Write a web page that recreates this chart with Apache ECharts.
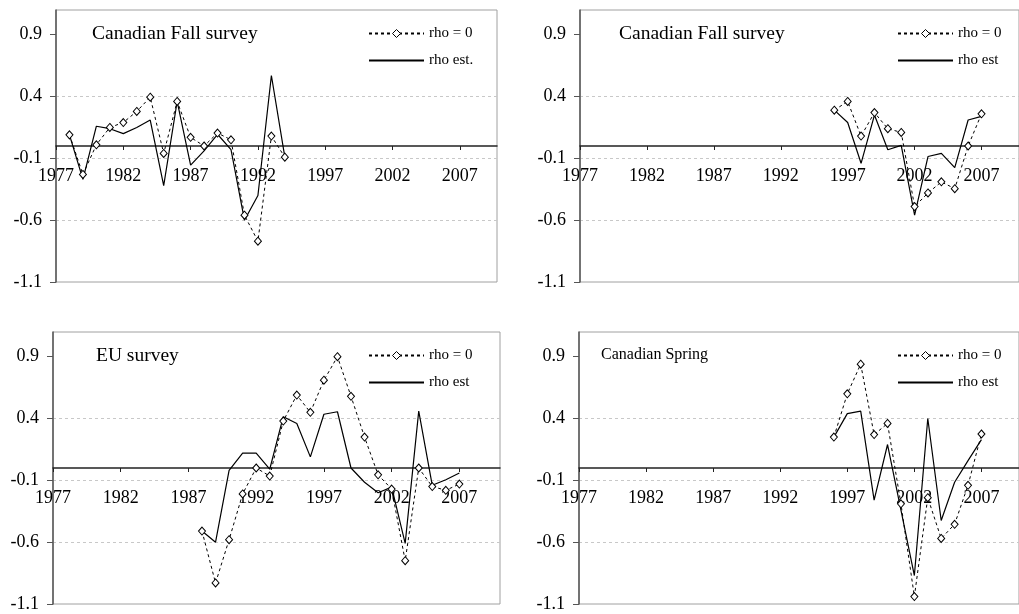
<!DOCTYPE html>
<html>
<head>
<meta charset="utf-8">
<script src="https://cdn.jsdelivr.net/npm/echarts@6/dist/echarts.min.js"></script>
<style>html,body{margin:0;padding:0;background:#fff;}#c{width:1019px;height:614px;}</style>
</head>
<body>
<div id="c"></div>
<script>
// ---- data ----
const xTickYears = [1977, 1982, 1987, 1992, 1997, 2002, 2007];
const yTicks = [-1.1, -0.6, -0.1, 0.4, 0.9];

const titles = ['Canadian Fall survey', 'Canadian Fall survey', 'EU survey', 'Canadian Spring'];
const legendNames = [['rho = 0', 'rho est.'], ['rho = 0', 'rho est'], ['rho = 0', 'rho est'], ['rho = 0', 'rho est']];

const yearsFall1 = [1978,1979,1980,1981,1982,1983,1984,1985,1986,1987,1988,1989,1990,1991,1992,1993,1994];
const fall1Rho0  = [0.09,-0.23,0.01,0.15,0.19,0.28,0.395,-0.06,0.36,0.07,0.0,0.105,0.05,-0.56,-0.77,0.08,-0.09];
const fall1Est   = [0.09,-0.27,0.16,0.14,0.10,0.15,0.21,-0.32,0.36,-0.155,-0.04,0.095,-0.03,-0.60,-0.40,0.57,-0.09];

const yearsFall2 = [1996,1997,1998,1999,2000,2001,2002,2003,2004,2005,2006,2007];
const fall2Rho0  = [0.29,0.36,0.08,0.27,0.14,0.11,-0.49,-0.38,-0.29,-0.345,0.0,0.26];
const fall2Est   = [0.29,0.19,-0.14,0.25,-0.03,0.005,-0.56,-0.085,-0.06,-0.175,0.21,0.24];

const yearsEU = [1988,1989,1990,1991,1992,1993,1994,1995,1996,1997,1998,1999,2000,2001,2002,2003,2004,2005,2006,2007];
const euRho0  = [-0.51,-0.93,-0.58,-0.21,0.0,-0.065,0.38,0.59,0.45,0.71,0.90,0.58,0.25,-0.055,-0.17,-0.75,0.0,-0.15,-0.18,-0.13];
const euEst   = [-0.51,-0.60,-0.02,0.12,0.12,-0.01,0.415,0.36,0.09,0.435,0.455,0.0,-0.115,-0.2,-0.155,-0.61,0.46,-0.14,-0.095,-0.04];

const yearsSpring = [1996,1997,1998,1999,2000,2001,2002,2003,2004,2005,2006,2007];
const springRho0  = [0.25,0.60,0.84,0.27,0.36,-0.29,-1.04,-0.24,-0.57,-0.455,-0.14,0.275];
const springEst   = [0.25,0.44,0.46,-0.26,0.19,-0.34,-0.87,0.40,-0.425,-0.115,0.06,0.23];

// ---- layout ----
const FONT = "'Liberation Serif','Times New Roman',serif";
const layout = [
  {grid:{left:56, top:10, width:441, height:272}, xmax:2009.76, titleLeft:89, titleTop:24, titleSize:19.5, legLeft:361, legTop:23},
  {grid:{left:580, top:10, width:446, height:272}, xmax:2009.8, titleLeft:616, titleTop:24, titleSize:19.5, legLeft:890, legTop:23},
  {grid:{left:53, top:332, width:447, height:272}, xmax:2010.0, titleLeft:93, titleTop:346, titleSize:19.5, legLeft:361, legTop:345},
  {grid:{left:579, top:332, width:446, height:272}, xmax:2009.8, titleLeft:598, titleTop:347, titleSize:16, legLeft:890, legTop:345}
];
const panelData = [
  [yearsFall1, fall1Rho0, fall1Est],
  [yearsFall2, fall2Rho0, fall2Est],
  [yearsEU, euRho0, euEst],
  [yearsSpring, springRho0, springEst]
];
const Y_MIN = -1.1, Y_MAX = 1.1;

const grids = [], xAxes = [], yAxes = [], series = [], titleArr = [], legends = [];
layout.forEach((L, i) => {
  grids.push(Object.assign({show:true, borderColor:'#a0a0a0', borderWidth:1, containLabel:false}, L.grid));
  // place the year axis at value 0 (labels follow the line, as in the original)
  const zeroOffset = -L.grid.height * (0 - Y_MIN) / (Y_MAX - Y_MIN);
  xAxes.push({
    type:'value', gridIndex:i, min:1977, max:L.xmax, offset:zeroOffset,
    axisLine:{onZero:false, lineStyle:{color:'#222', width:1.5}},
    axisTick:{show:true, length:4, customValues:xTickYears, lineStyle:{color:'#222'}},
    axisLabel:{customValues:xTickYears, margin:21, color:'#000', fontFamily:FONT, fontSize:18, formatter:v=>String(v)},
    splitLine:{show:false}
  });
  yAxes.push({
    type:'value', gridIndex:i, min:Y_MIN, max:Y_MAX, interval:0.5,
    axisLine:{show:true, onZero:false, lineStyle:{color:'#555', width:1.5}},
    axisTick:{show:true, length:6, customValues:yTicks, lineStyle:{color:'#555'}},
    axisLabel:{customValues:yTicks, margin:14, color:'#000', fontFamily:FONT, fontSize:18, formatter:v=>v.toFixed(1)},
    splitLine:{show:true, showMinLine:false, showMaxLine:false, lineStyle:{color:'#c8c8c8', type:[3,3], width:1}}
  });
  const [yrs, r0, est] = panelData[i];
  const names = legendNames[i];
  series.push({
    type:'line', name:names[1], xAxisIndex:i, yAxisIndex:i,
    data: yrs.map((y,k)=>[y, est[k]]),
    symbol:'none', lineStyle:{color:'#000', width:1.2}, itemStyle:{color:'rgba(0,0,0,0)', borderWidth:0},
    animation:false, z:3
  });
  series.push({
    type:'line', name:names[0], xAxisIndex:i, yAxisIndex:i,
    data: yrs.map((y,k)=>[y, r0[k]]),
    symbol:'diamond', symbolSize:[7,8], showSymbol:true,
    lineStyle:{color:'#000', width:1, type:[3,3]},
    itemStyle:{color:'#fff', borderColor:'#000', borderWidth:1},
    animation:false, z:4
  });
  titleArr.push({
    text:titles[i], left:L.titleLeft, top:L.titleTop, padding:[0,3],
    backgroundColor:'#fff',
    textStyle:{fontFamily:FONT, fontSize:L.titleSize, fontWeight:'normal', color:'#000'}
  });
  legends.push({
    data:[
      {name:names[0], itemStyle:{color:'#fff', borderColor:'#000', borderWidth:1}},
      {name:names[1]}
    ],
    orient:'vertical', left:L.legLeft, top:L.legTop,
    itemWidth:55, itemHeight:10, itemGap:12, padding:[3,4,3,7],
    backgroundColor:'#fff', selectedMode:false,
    textStyle:{fontFamily:FONT, fontSize:15, color:'#000'}
  });
});

const chart = echarts.init(document.getElementById('c'), null, {renderer:'canvas'});
chart.setOption({
  backgroundColor:'#fff',
  animation:false,
  title:titleArr,
  legend:legends,
  grid:grids,
  xAxis:xAxes,
  yAxis:yAxes,
  series:series
});
</script>
</body>
</html>
